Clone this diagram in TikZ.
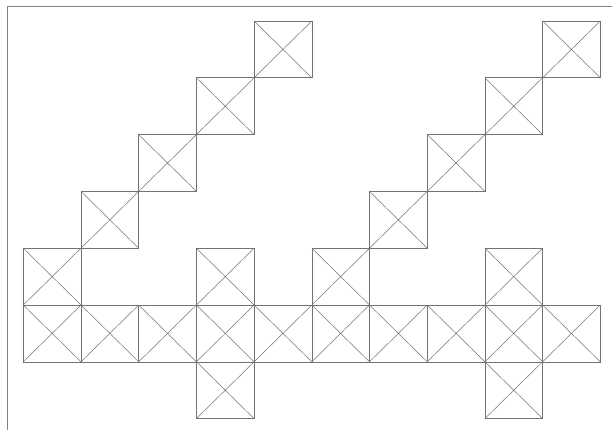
\documentclass[tikz,border=0pt]{standalone}
\usepackage{tikz}
\tikzset{
  lin/.style={draw=black!55, line width=0.6pt},
  xcell/.style={lin, rectangle, minimum width=57.7pt, minimum height=56.8pt,
    inner sep=0pt, outer sep=0pt,
    path picture={\draw[black!55, line width=0.5pt]
      (path picture bounding box.north west) -- (path picture bounding box.south east)
      (path picture bounding box.north east) -- (path picture bounding box.south west);}},
  framel/.style={draw=black!50, line width=0.9pt}
}
\begin{document}
\begin{tikzpicture}[x=1pt,y=-1pt]
\useasboundingbox (0,0) rectangle (612,430);
\fill[white] (0,0) rectangle (612,430);
% frame
\coordinate (ftl) at (7.3,6.7);
\coordinate (ftr) at (613,6.7);
\coordinate (fbl) at (7.3,431);
\draw[framel] (fbl) -- (ftl) -- (ftr);
% cells
\foreach \c/\r in {4/0,3/1,2/2,1/3,0/4,9/0,8/1,7/2,6/3,5/4,3/4,8/4,
  0/5,1/5,2/5,3/5,4/5,5/5,6/5,7/5,8/5,9/5,3/6,8/6}{
  \node[xcell] (c-\c-\r) at ({52.15+57.7*\c},{49.4+56.8*\r}) {};
}
\end{tikzpicture}
\end{document}
